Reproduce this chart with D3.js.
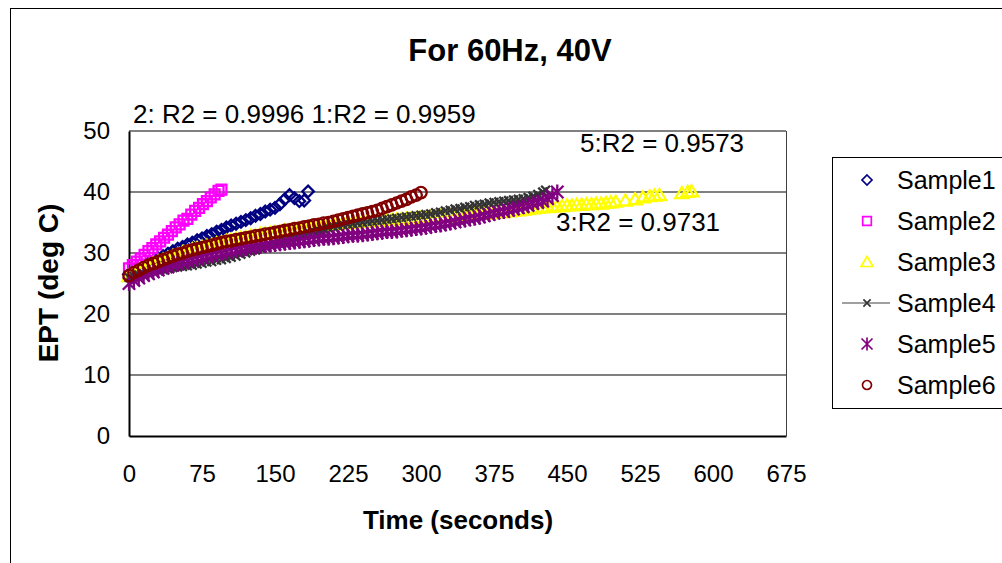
<!DOCTYPE html>
<html><head><meta charset="utf-8">
<script src="https://cdn.jsdelivr.net/npm/d3@7"></script>
<style>body{margin:0;background:#fff;overflow:hidden}svg{display:block;font-family:"Liberation Sans",Arial,sans-serif}</style>
</head><body><svg id="c" width="1002" height="563"></svg>
<script>
const xTicks = [0, 75, 150, 225, 300, 375, 450, 525, 600, 675];
const yTicks = [0, 10, 20, 30, 40, 50];
const seriesNames = ["Sample1", "Sample2", "Sample3", "Sample4", "Sample5", "Sample6"];
const r2Labels = ["2: R2 = 0.9996 1:R2 = 0.9959", "5:R2 = 0.9573", "3:R2 = 0.9731"];

const sample1 = [[0,26.5],[5,27.0],[10,27.4],[15,27.9],[20,28.3],[25,28.7],[30,29.1],[35,29.5],[40,29.9],[45,30.3],[50,30.7],[55,31.0],[60,31.4],[65,31.7],[70,32.1],[75,32.4],[80,32.8],[85,33.1],[90,33.5],[95,33.8],[100,34.2],[105,34.5],[110,34.8],[115,35.1],[120,35.4],[125,35.7],[130,36.1],[135,36.4],[140,36.8],[145,37.1],[150,37.4],[155,38.0],[160,38.8],[165,39.5],[170,39.0],[175,38.5],[180,38.6],[184,40.1]];
const sample2 = [[0,27.5],[4,28.0],[8,28.6],[12,29.1],[16,29.7],[20,30.3],[24,30.8],[28,31.4],[32,31.9],[36,32.5],[40,33.0],[44,33.6],[48,34.2],[52,34.7],[56,35.3],[60,35.6],[64,36.3],[68,36.9],[72,37.4],[76,38.0],[80,38.5],[84,39.1],[88,39.6],[92,40.2],[95,40.4]];
const sample3 = [[0,26.2],[5,26.7],[10,27.1],[15,27.5],[20,27.9],[25,28.3],[30,28.6],[35,28.9],[40,29.2],[45,29.5],[50,29.8],[55,30.1],[60,30.3],[65,30.6],[70,30.8],[75,31.0],[80,31.2],[85,31.4],[90,31.6],[95,31.8],[100,32.0],[105,32.2],[110,32.3],[115,32.5],[120,32.6],[125,32.8],[130,32.9],[135,33.1],[140,33.2],[145,33.3],[150,33.4],[155,33.5],[160,33.7],[165,33.8],[170,33.9],[175,34.0],[180,34.1],[185,34.2],[190,34.3],[195,34.4],[200,34.5],[205,34.6],[210,34.7],[215,34.8],[220,34.9],[225,34.9],[230,35.0],[235,35.1],[240,35.2],[245,35.2],[250,35.3],[255,35.3],[260,35.4],[265,35.4],[270,35.5],[275,35.5],[280,35.6],[285,35.6],[290,35.7],[295,35.7],[300,35.8],[305,35.8],[310,35.9],[315,35.9],[320,36.0],[325,36.0],[330,36.1],[335,36.1],[340,36.2],[345,36.2],[350,36.3],[355,36.4],[360,36.4],[365,36.5],[370,36.5],[375,36.6],[380,36.7],[385,36.7],[390,36.8],[395,36.9],[400,37.0],[405,37.1],[410,37.2],[415,37.3],[420,37.4],[425,37.5],[430,37.5],[435,37.6],[440,37.7],[445,37.7],[450,37.8],[455,37.8],[460,37.9],[465,37.9],[470,38.0],[475,38.0],[480,38.1],[485,38.1],[490,38.2],[495,38.3],[500,38.4],[510,38.6],[520,38.8],[528,39.1],[535,39.3],[540,39.4],[545,39.5],[568,39.8],[574,40.0],[578,40.1]];
const sample4 = [[0,26.0],[5,26.2],[10,26.4],[15,26.6],[20,26.8],[25,27.0],[30,27.1],[35,27.3],[40,27.4],[45,27.6],[50,27.7],[55,27.8],[60,27.9],[65,28.0],[70,28.2],[75,28.3],[80,28.5],[85,28.6],[90,28.8],[95,28.9],[100,29.1],[105,29.3],[110,29.5],[115,29.8],[120,30.0],[125,30.3],[130,30.5],[135,30.8],[140,31.0],[145,31.3],[150,31.5],[155,31.8],[160,32.0],[165,32.3],[170,32.5],[175,32.8],[180,33.0],[185,33.3],[190,33.5],[195,33.7],[200,33.9],[205,34.1],[210,34.3],[215,34.4],[220,34.6],[225,34.7],[230,34.8],[235,34.9],[240,35.0],[245,35.1],[250,35.2],[255,35.3],[260,35.4],[265,35.5],[270,35.6],[275,35.7],[280,35.8],[285,35.9],[290,36.0],[295,36.1],[300,36.2],[305,36.3],[310,36.4],[315,36.6],[320,36.7],[325,36.9],[330,37.0],[335,37.2],[340,37.3],[345,37.5],[350,37.6],[355,37.8],[360,37.9],[365,38.0],[370,38.2],[375,38.3],[380,38.4],[385,38.5],[390,38.6],[395,38.7],[400,38.8],[405,38.9],[410,39.1],[415,39.3],[420,39.6],[425,40.0],[428,40.3]];
const sample5 = [[0,25.0],[5,25.5],[10,25.9],[15,26.3],[20,26.6],[25,26.9],[30,27.2],[35,27.5],[40,27.7],[45,28.0],[50,28.2],[55,28.4],[60,28.6],[65,28.8],[70,29.0],[75,29.2],[80,29.4],[85,29.6],[90,29.8],[95,29.9],[100,30.1],[105,30.3],[110,30.4],[115,30.6],[120,30.7],[125,30.8],[130,31.0],[135,31.1],[140,31.2],[145,31.3],[150,31.4],[155,31.5],[160,31.6],[165,31.7],[170,31.8],[175,31.9],[180,32.0],[185,32.1],[190,32.2],[195,32.3],[200,32.4],[205,32.4],[210,32.5],[215,32.6],[220,32.7],[225,32.8],[230,32.9],[235,32.9],[240,33.0],[245,33.1],[250,33.2],[255,33.3],[260,33.4],[265,33.5],[270,33.5],[275,33.6],[280,33.7],[285,33.8],[290,33.9],[295,34.0],[300,34.1],[305,34.2],[310,34.4],[315,34.5],[320,34.6],[325,34.8],[330,34.9],[335,35.1],[340,35.3],[345,35.4],[350,35.6],[355,35.7],[360,35.9],[365,36.1],[370,36.3],[375,36.5],[380,36.7],[385,36.8],[390,37.0],[395,37.2],[400,37.4],[405,37.6],[410,37.8],[415,38.1],[420,38.3],[425,38.5],[430,38.9],[435,39.4],[440,40.0]];
const sample6 = [[0,26.3],[5,26.8],[10,27.2],[15,27.6],[20,28.0],[25,28.3],[30,28.6],[35,28.9],[40,29.2],[45,29.5],[50,29.8],[55,30.0],[60,30.3],[65,30.5],[70,30.7],[75,30.9],[80,31.1],[85,31.3],[90,31.5],[95,31.7],[100,31.9],[105,32.0],[110,32.2],[115,32.3],[120,32.5],[125,32.6],[130,32.8],[135,32.9],[140,33.1],[145,33.2],[150,33.4],[155,33.5],[160,33.7],[165,33.8],[170,34.0],[175,34.1],[180,34.3],[185,34.4],[190,34.6],[195,34.7],[200,34.9],[205,35.0],[210,35.2],[215,35.4],[220,35.6],[225,35.8],[230,36.0],[235,36.2],[240,36.4],[245,36.6],[250,36.8],[255,37.0],[260,37.3],[265,37.6],[270,37.9],[275,38.2],[280,38.5],[285,38.8],[290,39.2],[295,39.5],[300,39.9]];

const allSeries = [sample1, sample2, sample3, sample4, sample5, sample6];
const colors = ["#000080", "#FF00FF", "#FFFF00", "#333333", "#800080", "#800000"];

const shapes = [
  s => `M0,${-s}L${s},0L0,${s}L${-s},0Z`,
  s => `M${-s*0.9},${-s*0.9}H${s*0.9}V${s*0.9}H${-s*0.9}Z`,
  s => `M0,${-s*1.1}L${s*1.2},${s*0.9}L${-s*1.2},${s*0.9}Z`,
  s => `M${-s*0.8},${-s*0.8}L${s*0.8},${s*0.8}M${-s*0.8},${s*0.8}L${s*0.8},${-s*0.8}`,
  s => `M${-s},${-s}L${s},${s}M${-s},${s}L${s},${-s}M0,${-s*1.2}V${s*1.2}`,
  s => { const p = d3.path(); p.arc(0,0,s,0,2*Math.PI); p.closePath(); return p.toString(); }
];
const plotSizes = [5.8, 5.5, 5.5, 5.5, 6.2, 5.7];
const legendSizes = [5, 4.8, 5, 4.5, 5.5, 4.5];

const svg = d3.select("#c");
const x = d3.scaleLinear().domain([0, 675]).range([129, 786]);
const y = d3.scaleLinear().domain([0, 50]).range([436, 131]);
const FONT = "Liberation Sans, Arial, sans-serif";

// outer chart border
svg.append("rect").attr("x", 10.5).attr("y", 8.5).attr("width", 1100).attr("height", 600)
  .attr("fill", "#fff").attr("stroke", "#000").attr("stroke-width", 1);

// gridlines
svg.append("g").selectAll("line").data(yTicks.filter(d => d > 0)).join("line")
  .attr("x1", x(0)).attr("x2", x(675)).attr("y1", d => y(d)).attr("y2", d => y(d))
  .attr("stroke", "#808080").attr("stroke-width", 2);
// right border of plot area
svg.append("line").attr("x1", x(675) + 0.5).attr("x2", x(675) + 0.5).attr("y1", y(50)).attr("y2", y(0))
  .attr("stroke", "#404040").attr("stroke-width", 1);

// axes
const xAxis = d3.axisBottom(x).tickValues(xTicks).tickSize(0).tickPadding(29);
const gx = svg.append("g").attr("transform", `translate(0,${y(0)})`).call(xAxis);
gx.select(".domain").attr("stroke", "#000").attr("stroke-width", 2);
gx.selectAll("text").attr("font-size", 24).attr("fill", "#000").attr("font-family", FONT);

const yAxis = d3.axisLeft(y).tickValues(yTicks).tickSize(0).tickPadding(19);
const gy = svg.append("g").attr("transform", `translate(${x(0)},0)`).call(yAxis);
gy.select(".domain").attr("stroke", "#000").attr("stroke-width", 2);
gy.selectAll("text").attr("font-size", 24).attr("fill", "#000").attr("font-family", FONT);

// series
allSeries.forEach((data, i) => {
  const g = svg.append("g");
  if (i === 3) {
    g.append("path").datum(data)
      .attr("d", d3.line().x(d => x(d[0])).y(d => y(d[1])))
      .attr("fill", "none").attr("stroke", "#606060").attr("stroke-width", 1.5);
  }
  g.selectAll("path.m").data(data).join("path").attr("class", "m")
    .attr("transform", d => `translate(${x(d[0])},${y(d[1])})`)
    .attr("d", shapes[i](plotSizes[i]))
    .attr("fill", "none").attr("stroke", colors[i]).attr("stroke-width", 2.3);
});

// annotations
svg.append("text").attr("x", 133).attr("y", 123).attr("font-size", 26).text(r2Labels[0]);
svg.append("text").attr("x", 580).attr("y", 152).attr("font-size", 26).text(r2Labels[1]);
svg.append("text").attr("x", 556).attr("y", 231).attr("font-size", 26).text(r2Labels[2]);

// title
svg.append("text").attr("x", 510).attr("y", 61).attr("text-anchor", "middle")
  .attr("font-size", 31).attr("font-weight", "bold").text("For 60Hz, 40V");
// axis titles
svg.append("text").attr("x", 458).attr("y", 529).attr("text-anchor", "middle")
  .attr("font-size", 26).attr("font-weight", "bold").text("Time (seconds)");
svg.append("text").attr("transform", "translate(58,283) rotate(-90)").attr("text-anchor", "middle")
  .attr("font-size", 28).attr("font-weight", "bold").text("EPT (deg C)");

// legend
const lg = svg.append("g");
lg.append("rect").attr("x", 832.5).attr("y", 157.5).attr("width", 200).attr("height", 251)
  .attr("fill", "#fff").attr("stroke", "#000").attr("stroke-width", 1);
seriesNames.forEach((name, i) => {
  const cy = 180 + i * 41;
  if (i === 3) {
    lg.append("line").attr("x1", 842).attr("x2", 890).attr("y1", cy).attr("y2", cy)
      .attr("stroke", "#808080").attr("stroke-width", 1.5);
  }
  lg.append("path").attr("transform", `translate(867,${cy})`)
    .attr("d", shapes[i](legendSizes[i]))
    .attr("fill", "none").attr("stroke", colors[i]).attr("stroke-width", 1.7);
  lg.append("text").attr("x", 897).attr("y", cy + 9).attr("font-size", 25).text(name);
});
</script></body></html>
